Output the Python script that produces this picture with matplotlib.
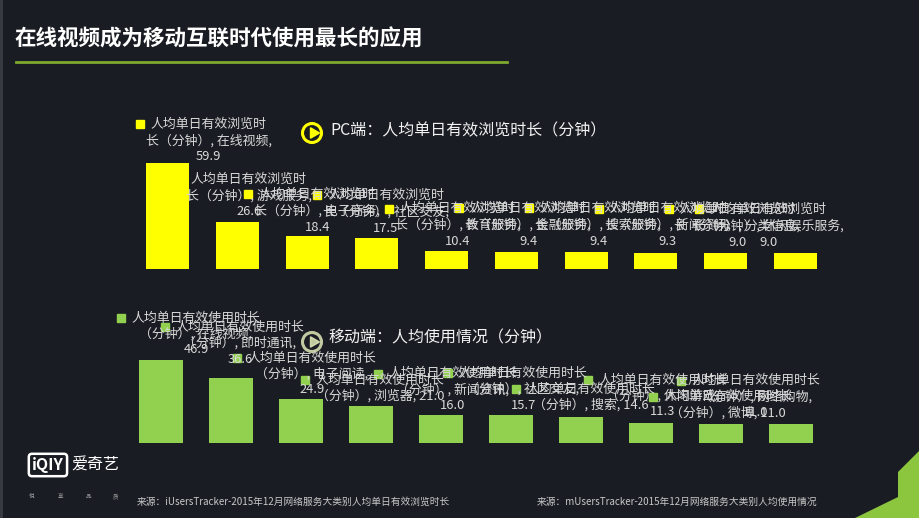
import matplotlib
matplotlib.use("Agg")
import matplotlib.pyplot as plt
from matplotlib import transforms
from matplotlib.patches import Circle, Polygon, RegularPolygon

plt.rcParams["font.family"] = ["Noto Sans CJK SC", "DejaVu Sans"]

W, H = 920, 518
BG = "#1a1c23"
YELLOW = "#ffff00"
GREEN = "#92d050"
LABEL_COLOR = "#d9d9d9"

TITLE = "在线视频成为移动互联时代使用最长的应用"
PC_TITLE = "PC端：人均单日有效浏览时长（分钟）"
MOBILE_TITLE = "移动端：人均使用情况（分钟）"
PC_SOURCE = "来源：iUsersTracker-2015年12月网络服务大类别人均单日有效浏览时长"
MOBILE_SOURCE = "来源：mUsersTracker-2015年12月网络服务大类别人均使用情况"
SLOGAN = ["悦", "享", "品", "质"]

pc_categories = ["在线视频", "游戏服务", "电子商务", "社区交友", "教育服务",
                 "金融服务", "搜索服务", "新闻资讯", "分类信息", "休闲娱乐服务"]
pc_values = [59.9, 26.6, 18.4, 17.5, 10.4, 9.4, 9.4, 9.3, 9.0, 9.0]
pc_series = "人均单日有效浏览时长（分钟）"

mobile_categories = ["在线视频", "即时通讯", "电子阅读", "浏览器", "新闻资讯",
                     "社区交友", "搜索", "休闲游戏", "微博", "网络购物"]
mobile_values = [46.9, 36.6, 24.9, 21.0, 16.0, 15.7, 14.6, 11.3, 11.0, 11.0]
mobile_series = "人均单日有效使用时长（分钟）"

# label placement (pixels): x shift from bar centre, gap above bar top
PC_DX = [41, 11, 10, 9, 11, 12, 12, 12, 12, -27]
PC_GAP = [6, 10, 9, 10, 9, 11, 11, 11, 11, 11]
MOBILE_DX = [35, 9, 11, 9, 12, 12, 10, 12, 7, -35]
MOBILE_GAP = [10, 19, 9, 10, 9, 10, 12, 11, 11, 11]
MOBILE_JOIN = [False, False, False, True, False, False, True, False, True, False]


def px_axes(fig, left, top, width, height):
    return fig.add_axes([left / W, 1 - (top + height) / H, width / W, height / H])


def split_label(series, cat, value, wrap_at, join):
    line1 = series[:wrap_at]
    rest = series[wrap_at:] + ", " + cat + ","
    if join:
        return [line1, rest + " " + f"{value:.1f}"]
    return [line1, rest, f"{value:.1f}"]


def draw_bars(fig, ax, deco, cats, vals, color, series, wrap_at, dx, gap, join, spacing):
    x = list(range(len(cats)))
    ax.bar(x, vals, width=0.617, color=color, zorder=2)
    ax.set_xlim(-0.5, len(cats) - 0.5)
    ax.set_ylim(0, 90)
    ax.axis("off")

    renderer = fig.canvas.get_renderer()
    for i, (c, v) in enumerate(zip(cats, vals)):
        lines = split_label(series, c, v, wrap_at, join[i])
        first = None
        for k, line in enumerate(reversed(lines)):
            tr = transforms.offset_copy(ax.transData, fig=fig, x=dx[i],
                                        y=gap[i] + k * spacing, units="dots")
            t = ax.text(i, v, line, transform=tr, ha="center", va="center",
                        fontsize=9.3, color=LABEL_COLOR, zorder=3)
            first = t
        bb = first.get_window_extent(renderer=renderer)
        yc = (bb.y0 + bb.y1) / 2
        deco.plot(bb.x0 - 11, H - yc, marker="s", ms=5.5, color=color,
                  linestyle="none", zorder=4)


def play_icon(ax, cx, cy, color, alpha=1.0):
    ax.add_patch(Circle((cx, cy), 9.5, fill=False, ec=color, lw=2.2, alpha=alpha))
    ax.add_patch(RegularPolygon((cx + 1.5, cy), 3, radius=6, orientation=-1.5708,
                                color=color, alpha=alpha))


def main():
    fig = plt.figure(figsize=(W / 100, H / 100), dpi=100, facecolor=BG)

    deco = fig.add_axes([0, 0, 1, 1])
    deco.set_xlim(0, W)
    deco.set_ylim(H, 0)
    deco.axis("off")

    deco.text(15, 39, TITLE, fontsize=15.5, fontweight="bold", color="white",
              ha="left", va="center")
    deco.plot([16, 507], [62, 62], color="#7fa82e", lw=2)
    deco.plot([1, 1], [0, H], color="#3a3c44", lw=2)

    deco.text(330, 131, PC_TITLE, fontsize=11.5, color="#f2f2f2", ha="left", va="center")
    play_icon(deco, 312, 133, YELLOW)
    deco.text(328, 338, MOBILE_TITLE, fontsize=11.5, color="#f2f2f2", ha="left", va="center")
    play_icon(deco, 312, 342, "#dfe9b8", alpha=0.85)

    pc_ax = px_axes(fig, 133, 109.7, 697, 159.3)
    draw_bars(fig, pc_ax, deco, pc_categories, pc_values, YELLOW, pc_series,
              9, PC_DX, PC_GAP, [False] * 10, 16.5)

    m_ax = px_axes(fig, 126, 283.7, 700, 159.3)
    draw_bars(fig, m_ax, deco, mobile_categories, mobile_values, GREEN, mobile_series,
              10, MOBILE_DX, MOBILE_GAP, MOBILE_JOIN, 16)

    # footer
    deco.text(32, 465, "iQIY", fontsize=11.5, fontweight="bold", color="white",
              ha="left", va="center",
              bbox=dict(boxstyle="round,pad=0.2", fc="none", ec="white", lw=1.8))
    deco.text(71, 465, "爱奇艺", fontsize=11.5, color="white", ha="left", va="center")
    for k, ch in enumerate(SLOGAN):
        deco.text(32 + k * 28, 497, ch, fontsize=4, color="#9a9a9a",
                  ha="center", va="center")
    deco.text(137, 502, PC_SOURCE, fontsize=7, color="#c8c8c8", ha="left", va="center")
    deco.text(537, 502, MOBILE_SOURCE, fontsize=7, color="#c8c8c8", ha="left", va="center")
    deco.add_patch(Polygon([(920, 450), (898, 472), (898, 497), (855, 518), (920, 518)],
                           closed=True, color="#8cc63f", lw=0))

    fig.savefig("out.png", dpi=100, facecolor=BG)


if __name__ == "__main__":
    main()
